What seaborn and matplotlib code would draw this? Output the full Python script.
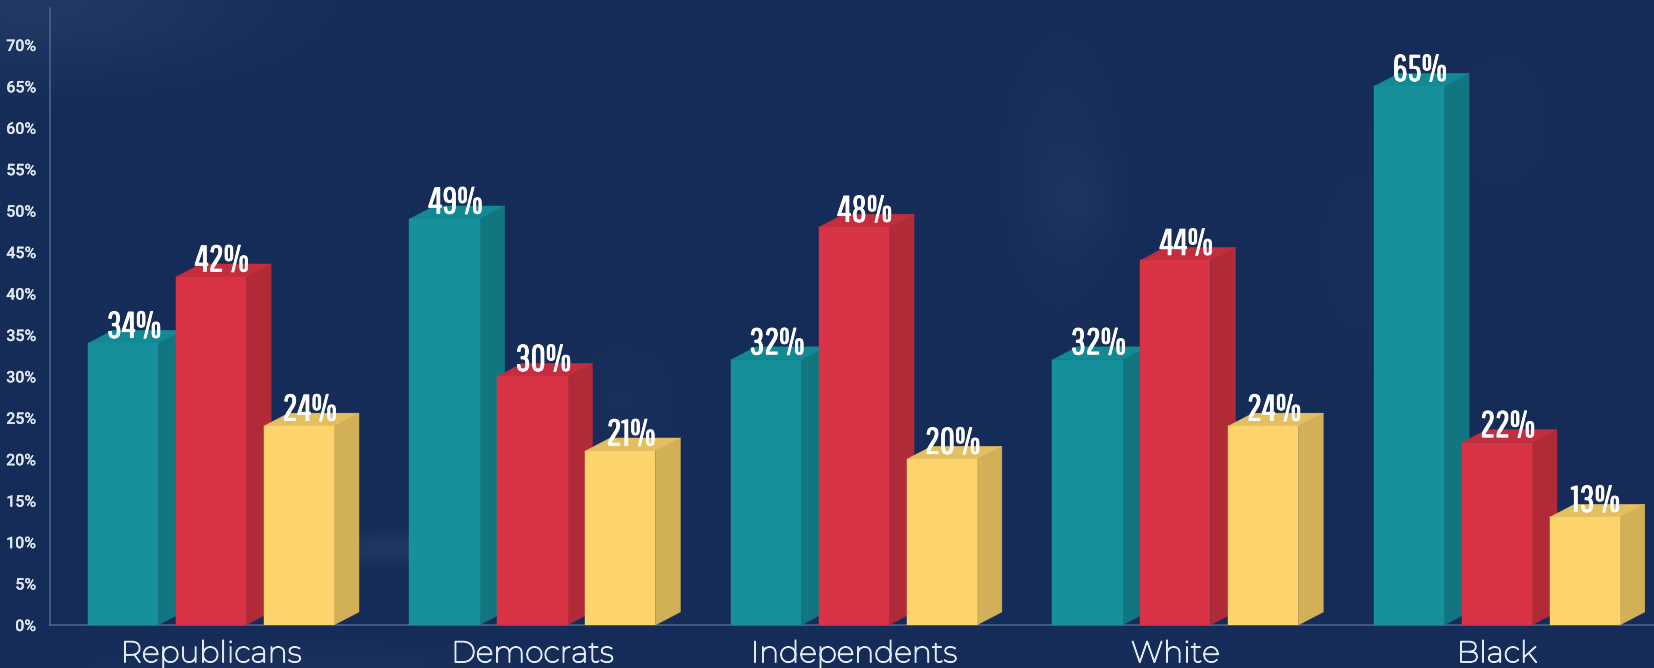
import numpy as np
import pandas as pd
import matplotlib
matplotlib.use("Agg")
import matplotlib.pyplot as plt
from matplotlib.patches import Polygon
import matplotlib.patheffects as pe
import seaborn as sns

categories = ["Republicans", "Democrats", "Independents", "White", "Black"]
series_names = ["A", "B", "C"]
teal_values = [34, 49, 32, 32, 65]
red_values = [42, 30, 48, 44, 22]
yellow_values = [24, 21, 20, 24, 13]
front_colors = ["#16919b", "#d93445", "#fdd46b"]
side_colors = ["#117680", "#b12a38", "#d2b057"]
top_colors = ["#128a93", "#c42d3d", "#e3bf60"]
yticks = list(range(0, 75, 5))

W, H = 1654, 668
sns.set_theme(style="dark")
plt.rcParams["font.family"] = ["Roboto", "DejaVu Sans"]

df = pd.DataFrame({
    "cat": categories * 3,
    "series": np.repeat(series_names, 5),
    "val": teal_values + red_values + yellow_values,
})

fig = plt.figure(figsize=(W / 100, H / 100), dpi=100, facecolor="#172d58")

# soft background
bg = fig.add_axes([0, 0, 1, 1], zorder=0)
yy, xx = np.mgrid[0:H:2, 0:W:2]
def blob(cx, cy, sx, sy, a):
    return a * np.exp(-((xx - cx) / sx) ** 2 - ((yy - cy) / sy) ** 2)
glow = blob(30, 0, 220, 70, .22) + blob(1060, 170, 55, 130, .10) + blob(1080, 200, 35, 40, .06) \
    + blob(390, 548, 60, 16, .20) + blob(620, 400, 60, 60, .07) + blob(1360, 250, 60, 120, .05) \
    + blob(1500, 120, 70, 100, .05) + blob(300, 665, 200, 20, .10)
base = np.array([0x16, 0x2c, 0x58]) / 255
tint = np.array([0x4a, 0x66, 0x8e]) / 255
g = np.clip(glow, 0, 1)[..., None]
bg.imshow(base * (1 - g) + tint * g, extent=(0, W, H, 0), aspect="auto")
bg.axis("off")

ax = fig.add_axes([50 / W, 1 - 625 / H, (W - 50) / W, 617 / H], zorder=1)
ax.patch.set_alpha(0)
sns.barplot(data=df, x="cat", y="val", hue="series", hue_order=series_names,
            order=categories, palette=front_colors, saturation=1, width=.82, gap=.2,
            legend=False, ax=ax, linewidth=0)
ax.set_xlim(-.5008, 4.489)
ax.set_ylim(0, 74.46)
ax.set_xlabel("")
ax.set_ylabel("")
ax.grid(False)
ax.set_yticks(yticks, [f"{v}%" for v in yticks])
ax.tick_params(axis="y", length=0, pad=10, labelsize=11.5, labelcolor="#dfe6f0")
ax.tick_params(axis="x", length=0, pad=11, labelsize=21.5, labelcolor="#e3e9f1")
for lab in ax.get_yticklabels():
    lab.set_fontweight("medium")
    lab.set_path_effects([pe.withStroke(linewidth=.12, foreground="#dfe6f0")])
for lab in ax.get_xticklabels():
    lab.set_fontfamily(["Montserrat", "DejaVu Sans"])
    lab.set_path_effects([pe.withStroke(linewidth=.9, foreground="#e3e9f1")])
for s in ("top", "right"):
    ax.spines[s].set_visible(False)
for s in ("left", "bottom"):
    ax.spines[s].set_color("#4d6288")
    ax.spines[s].set_linewidth(1.2)

# extrusion depth, in data units
dx = 25 * (ax.get_xlim()[1] - ax.get_xlim()[0]) / (W - 50)
dy = 13 * (ax.get_ylim()[1] - ax.get_ylim()[0]) / 617

for i, cont in enumerate(ax.containers):
    z = 3 + i * 3
    for bar in cont:
        x0, w, h = bar.get_x(), bar.get_width(), bar.get_height()
        x1 = x0 + w
        bar.set_zorder(z + 2)
        bar.set_edgecolor(front_colors[i])
        bar.set_linewidth(.3)
        ax.add_patch(Polygon([(x1, 0), (x1 + dx, dy), (x1 + dx, h + dy), (x1, h)],
                             fc=side_colors[i], ec=side_colors[i], lw=.3, zorder=z))
        ax.add_patch(Polygon([(x0, h), (x0 + dx, h + dy), (x1 + dx, h + dy), (x1, h)],
                             fc=top_colors[i], ec=top_colors[i], lw=.3, zorder=z + 1))
        ax.annotate(f"{h:.0f}%", (x0 + w / 2 + dx / 2, h), xytext=(-1.2, 4),
                    textcoords="offset points", ha="center", va="baseline", color="white",
                    fontsize=26.5, family=["Pathway Gothic One", "Bebas Neue", "DejaVu Sans"], zorder=30,
                    path_effects=[pe.withStroke(linewidth=.6, foreground="white")])

fig.savefig("out.png", dpi=100, facecolor=fig.get_facecolor())
